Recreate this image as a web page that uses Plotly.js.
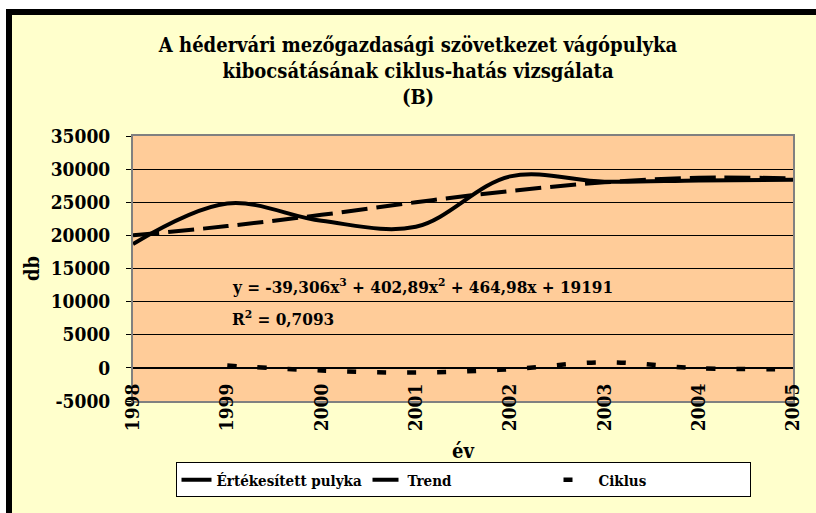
<!DOCTYPE html>
<html>
<head>
<meta charset="utf-8">
<script src="https://cdn.plot.ly/plotly-3.0.1.min.js"></script>
<style>
  html, body { margin: 0; padding: 0; background: #ffffff; }
  #frame { position: absolute; left: 6px; top: 9px; width: 810px; height: 504px;
           border-left: 6px solid #000; border-top: 6px solid #000; box-sizing: border-box;
           background: #FFFFCC; }
  #chart { width: 804px; height: 498px; }
</style>
</head>
<body>
<div id="frame"><div id="chart"></div></div>
<script>
// ---- data ----
var years = [1998, 1999, 2000, 2001, 2002, 2003, 2004, 2005];
var yearLabels = ['1998', '1999', '2000', '2001', '2002', '2003', '2004', '2005'];
var ertekesitett = [18700, 24800, 22200, 21300, 28900, 28100, 28300, 28400];
var trend = [20000, 21400, 23100, 25000, 26700, 28000, 28700, 28600];
var ciklusYears = [1999, 2000, 2001, 2002, 2003, 2004, 2005];
var ciklus = [350, -400, -700, -200, 850, -50, -200];
var yTicks = [-5000, 0, 5000, 10000, 15000, 20000, 25000, 30000, 35000];
var yTickLabels = ['-5000', '0', '5000', '10000', '15000', '20000', '25000', '30000', '35000'];
var seriesNames = ['Értékesített pulyka', 'Trend', 'Ciklus'];
var titleText = 'A hédervári mezőgazdasági szövetkezet vágópulyka<br>kibocsátásának ciklus-hatás vizsgálata<br>(B)';
var eqText = 'y = -39,306x<sup>3</sup> + 402,89x<sup>2</sup> + 464,98x + 19191';
var r2Text = 'R<sup>2</sup> = 0,7093';

var FONT = 'DejaVu Serif Condensed, DejaVu Serif';

var traces = [
  { x: years, y: ertekesitett, name: seriesNames[0], type: 'scatter', mode: 'lines',
    line: { color: '#000', width: 4, shape: 'spline', smoothing: 1 }, hoverinfo: 'skip' },
  { x: years, y: trend, name: seriesNames[1], type: 'scatter', mode: 'lines',
    line: { color: '#000', width: 4, shape: 'spline', smoothing: 1, dash: '26px,9px' }, hoverinfo: 'skip' },
  { x: ciklusYears, y: ciklus, name: seriesNames[2], type: 'scatter', mode: 'lines',
    line: { color: '#000', width: 4.5, shape: 'spline', smoothing: 1, dash: '9px,21px' }, hoverinfo: 'skip' }
];

var crossAxis = {
  overlaying: 'x', anchor: 'free', position: 0.125, range: [1998, 2005],
  tickmode: 'array', tickvals: years, showticklabels: false, ticklen: 5,
  tickcolor: '#000', tickwidth: 1, showline: false, showgrid: false, zeroline: false, fixedrange: true
};

var layout = {
  width: 804, height: 498,
  margin: { l: 121, r: 23, t: 121, b: 112 },
  paper_bgcolor: 'rgba(0,0,0,0)',
  plot_bgcolor: '#FFCC99',
  font: { family: FONT, color: '#000', size: 19, weight: 'bold' },
  showlegend: true,
  title: {
    text: titleText, x: 0.505, xref: 'container', xanchor: 'center',
    y: 1 - 37 / 498, yref: 'container', yanchor: 'top',
    font: { family: FONT, size: 20, weight: 'bold', color: '#000' }
  },
  xaxis: {
    range: [1998, 2005], tickmode: 'array', tickvals: years, ticktext: yearLabels,
    tickangle: -90, ticks: '', ticklabelstandoff: -27,
    showline: true, linecolor: '#808080', linewidth: 2, mirror: true,
    showgrid: false, zeroline: false, fixedrange: true,
    tickfont: { family: FONT, size: 19, weight: 'bold', color: '#000' },
    title: { text: 'év', standoff: 14, font: { family: FONT, size: 20, weight: 'bold', color: '#000' } }
  },
  xaxis2: Object.assign({}, crossAxis, { ticks: 'outside' }),
  xaxis3: Object.assign({}, crossAxis, { ticks: 'inside' }),
  yaxis: {
    range: [-5000, 35000], tickmode: 'array', tickvals: yTicks, ticktext: yTickLabels,
    ticks: 'outside', ticklen: 5, tickcolor: '#000', tickwidth: 1, ticklabelstandoff: 12,
    showline: true, linecolor: '#808080', linewidth: 2, mirror: true,
    showgrid: true, gridcolor: '#000', gridwidth: 1,
    zeroline: true, zerolinecolor: '#000', zerolinewidth: 1.5, fixedrange: true,
    tickfont: { family: FONT, size: 19, weight: 'bold', color: '#000' },
    title: { text: 'db', standoff: 6, font: { family: FONT, size: 20, weight: 'bold', color: '#000' } }
  },
  legend: {
    orientation: 'h', x: 0.5, xanchor: 'center', y: -0.232, yanchor: 'top',
    bgcolor: '#FFFFFF', bordercolor: '#000', borderwidth: 1,
    font: { family: FONT, size: 15, weight: 'bold', color: '#000' },
    entrywidth: 146, entrywidthmode: 'pixels',
    traceorder: 'normal'
  },
  annotations: [
    { text: eqText, xref: 'paper', yref: 'y', x: 0.147, y: 12400, xanchor: 'left', yanchor: 'middle',
      showarrow: false, font: { family: FONT, size: 17, weight: 'bold', color: '#000' } },
    { text: r2Text, xref: 'paper', yref: 'y', x: 0.147, y: 7500, xanchor: 'left', yanchor: 'middle',
      showarrow: false, font: { family: FONT, size: 17, weight: 'bold', color: '#000' } }
  ]
};

Plotly.newPlot('chart', traces, layout, { staticPlot: true, displayModeBar: false });
</script>
</body>
</html>
